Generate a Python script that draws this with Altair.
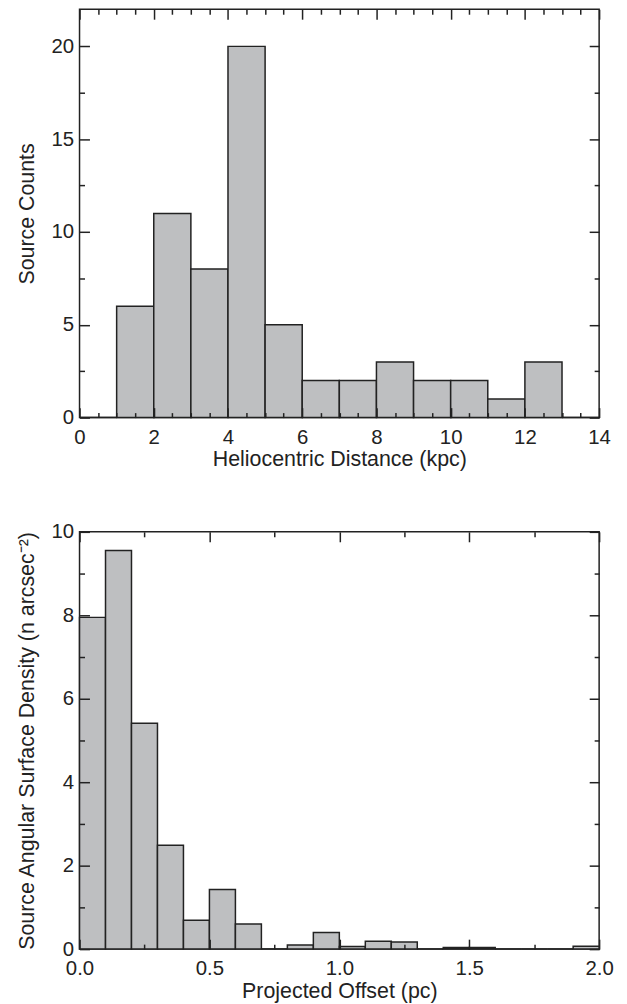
import altair as alt
import pandas as pd

# ---- top panel: heliocentric distance histogram ----
dist_bin_start = [0, 1, 2, 3, 4, 5, 6, 7, 8, 9, 10, 11, 12, 13]
dist_counts = [0, 6, 11, 8, 20, 5, 2, 2, 3, 2, 2, 1, 3, 0]
dist_bin_width = 1.0
dist_major = [0, 2, 4, 6, 8, 10, 12, 14]
dist_minor = [0.5, 1, 1.5, 2.5, 3, 3.5, 4.5, 5, 5.5, 6.5, 7, 7.5, 8.5, 9, 9.5,
              10.5, 11, 11.5, 12.5, 13, 13.5]
count_major = [0, 5, 10, 15, 20]
count_minor = [2.5, 7.5, 12.5, 17.5]

# ---- bottom panel: projected offset surface density ----
off_bin_start = [0.0, 0.1, 0.2, 0.3, 0.4, 0.5, 0.6, 0.7, 0.8, 0.9,
                 1.0, 1.1, 1.2, 1.3, 1.4, 1.5, 1.6, 1.7, 1.8, 1.9]
off_density = [7.95, 9.55, 5.41, 2.49, 0.69, 1.43, 0.60, 0.0, 0.10, 0.40,
               0.06, 0.19, 0.17, 0.0, 0.04, 0.04, 0.0, 0.0, 0.0, 0.07]
off_bin_width = 0.1
off_major = [0.0, 0.5, 1.0, 1.5, 2.0]
off_minor = [0.25, 0.75, 1.25, 1.75]
dens_major = [0, 2, 4, 6, 8, 10]
dens_minor = [1, 3, 5, 7, 9]

INK = "#222222"
FILL = "#bebfc1"
FONT = "Liberation Sans"


def make_df(starts, vals, width):
    return pd.DataFrame({
        "lo": starts,
        "hi": [s + width for s in starts],
        "val": vals,
    })


def axis(orient, values, major, labels=False, title=None, fmt=None,
         label_pad=0, title_pad=0):
    size = 10 if major else 5
    kw = dict(
        orient=orient,
        values=values,
        tickSize=alt.ExprRef(expr=str(-size)),
        labels=labels,
        title=title,
        zindex=2,
    )
    if labels:
        kw["labelPadding"] = label_pad
        kw["format"] = fmt
        kw["titlePadding"] = title_pad
    return alt.Axis(**kw)


def panel(df, xdom, ydom, xmaj, xmin, ymaj, ymin, xtitle, ytitle, xfmt, yfmt, w, h):
    xs = alt.Scale(domain=xdom, nice=False, zero=False)
    ys = alt.Scale(domain=ydom, nice=False, zero=True)
    base = alt.Chart(df)
    bars = base.mark_rect(fill=FILL, stroke=INK, strokeWidth=1.5).encode(
        x=alt.X("lo:Q", scale=xs,
                axis=axis("bottom", xmaj, True, True, xtitle, xfmt, 20, 1)),
        x2="hi:Q",
        y=alt.Y("val:Q", scale=ys,
                axis=axis("left", ymaj, True, True, ytitle, yfmt, 16, 13)),
        y2=alt.datum(0),
    )
    g1 = base.mark_point(opacity=0).encode(
        x=alt.X("lo:Q", scale=xs, axis=axis("top", xmaj, True)),
        y=alt.Y("val:Q", scale=ys, axis=axis("right", ymaj, True)),
    )
    g2 = base.mark_point(opacity=0).encode(
        x=alt.X("lo:Q", scale=xs, axis=axis("bottom", xmin, False)),
        y=alt.Y("val:Q", scale=ys, axis=axis("left", ymin, False)),
    )
    g3 = base.mark_point(opacity=0).encode(
        x=alt.X("lo:Q", scale=xs, axis=axis("top", xmin, False)),
        y=alt.Y("val:Q", scale=ys, axis=axis("right", ymin, False)),
    )
    return alt.layer(bars, g1, g2, g3).resolve_axis(
        x="independent", y="independent"
    ).properties(width=w, height=h)


top = panel(make_df(dist_bin_start, dist_counts, dist_bin_width),
            [0, 14], [0, 22], dist_major, dist_minor, count_major, count_minor,
            "Heliocentric Distance (kpc)", "Source Counts", "d", "d", 523, 411)

bottom = panel(make_df(off_bin_start, off_density, off_bin_width),
               [0, 2], [0, 10], off_major, off_minor, dens_major, dens_minor,
               "Projected Offset (pc)", "Source Angular Surface Density (n arcsec\u207b\u00b2)",
               ".1f", "d", 523, 420)

chart = alt.vconcat(top, bottom, spacing=50).properties(
    padding={"left": 7, "top": -4, "right": 5, "bottom": 0},
    background="white",
).configure_view(
    stroke=INK, strokeWidth=1.5
).configure_axis(
    domain=False, grid=False,
    tickColor=INK, tickWidth=1.5,
    labelFont=FONT, labelFontSize=20.5, labelColor=INK,
    labelFlush=False, labelOverlap=False,
    titleFont=FONT, titleFontSize=21.5, titleFontWeight="normal", titleColor=INK,
)

chart.save("out.html", embed_options={"renderer": "svg", "actions": False})
